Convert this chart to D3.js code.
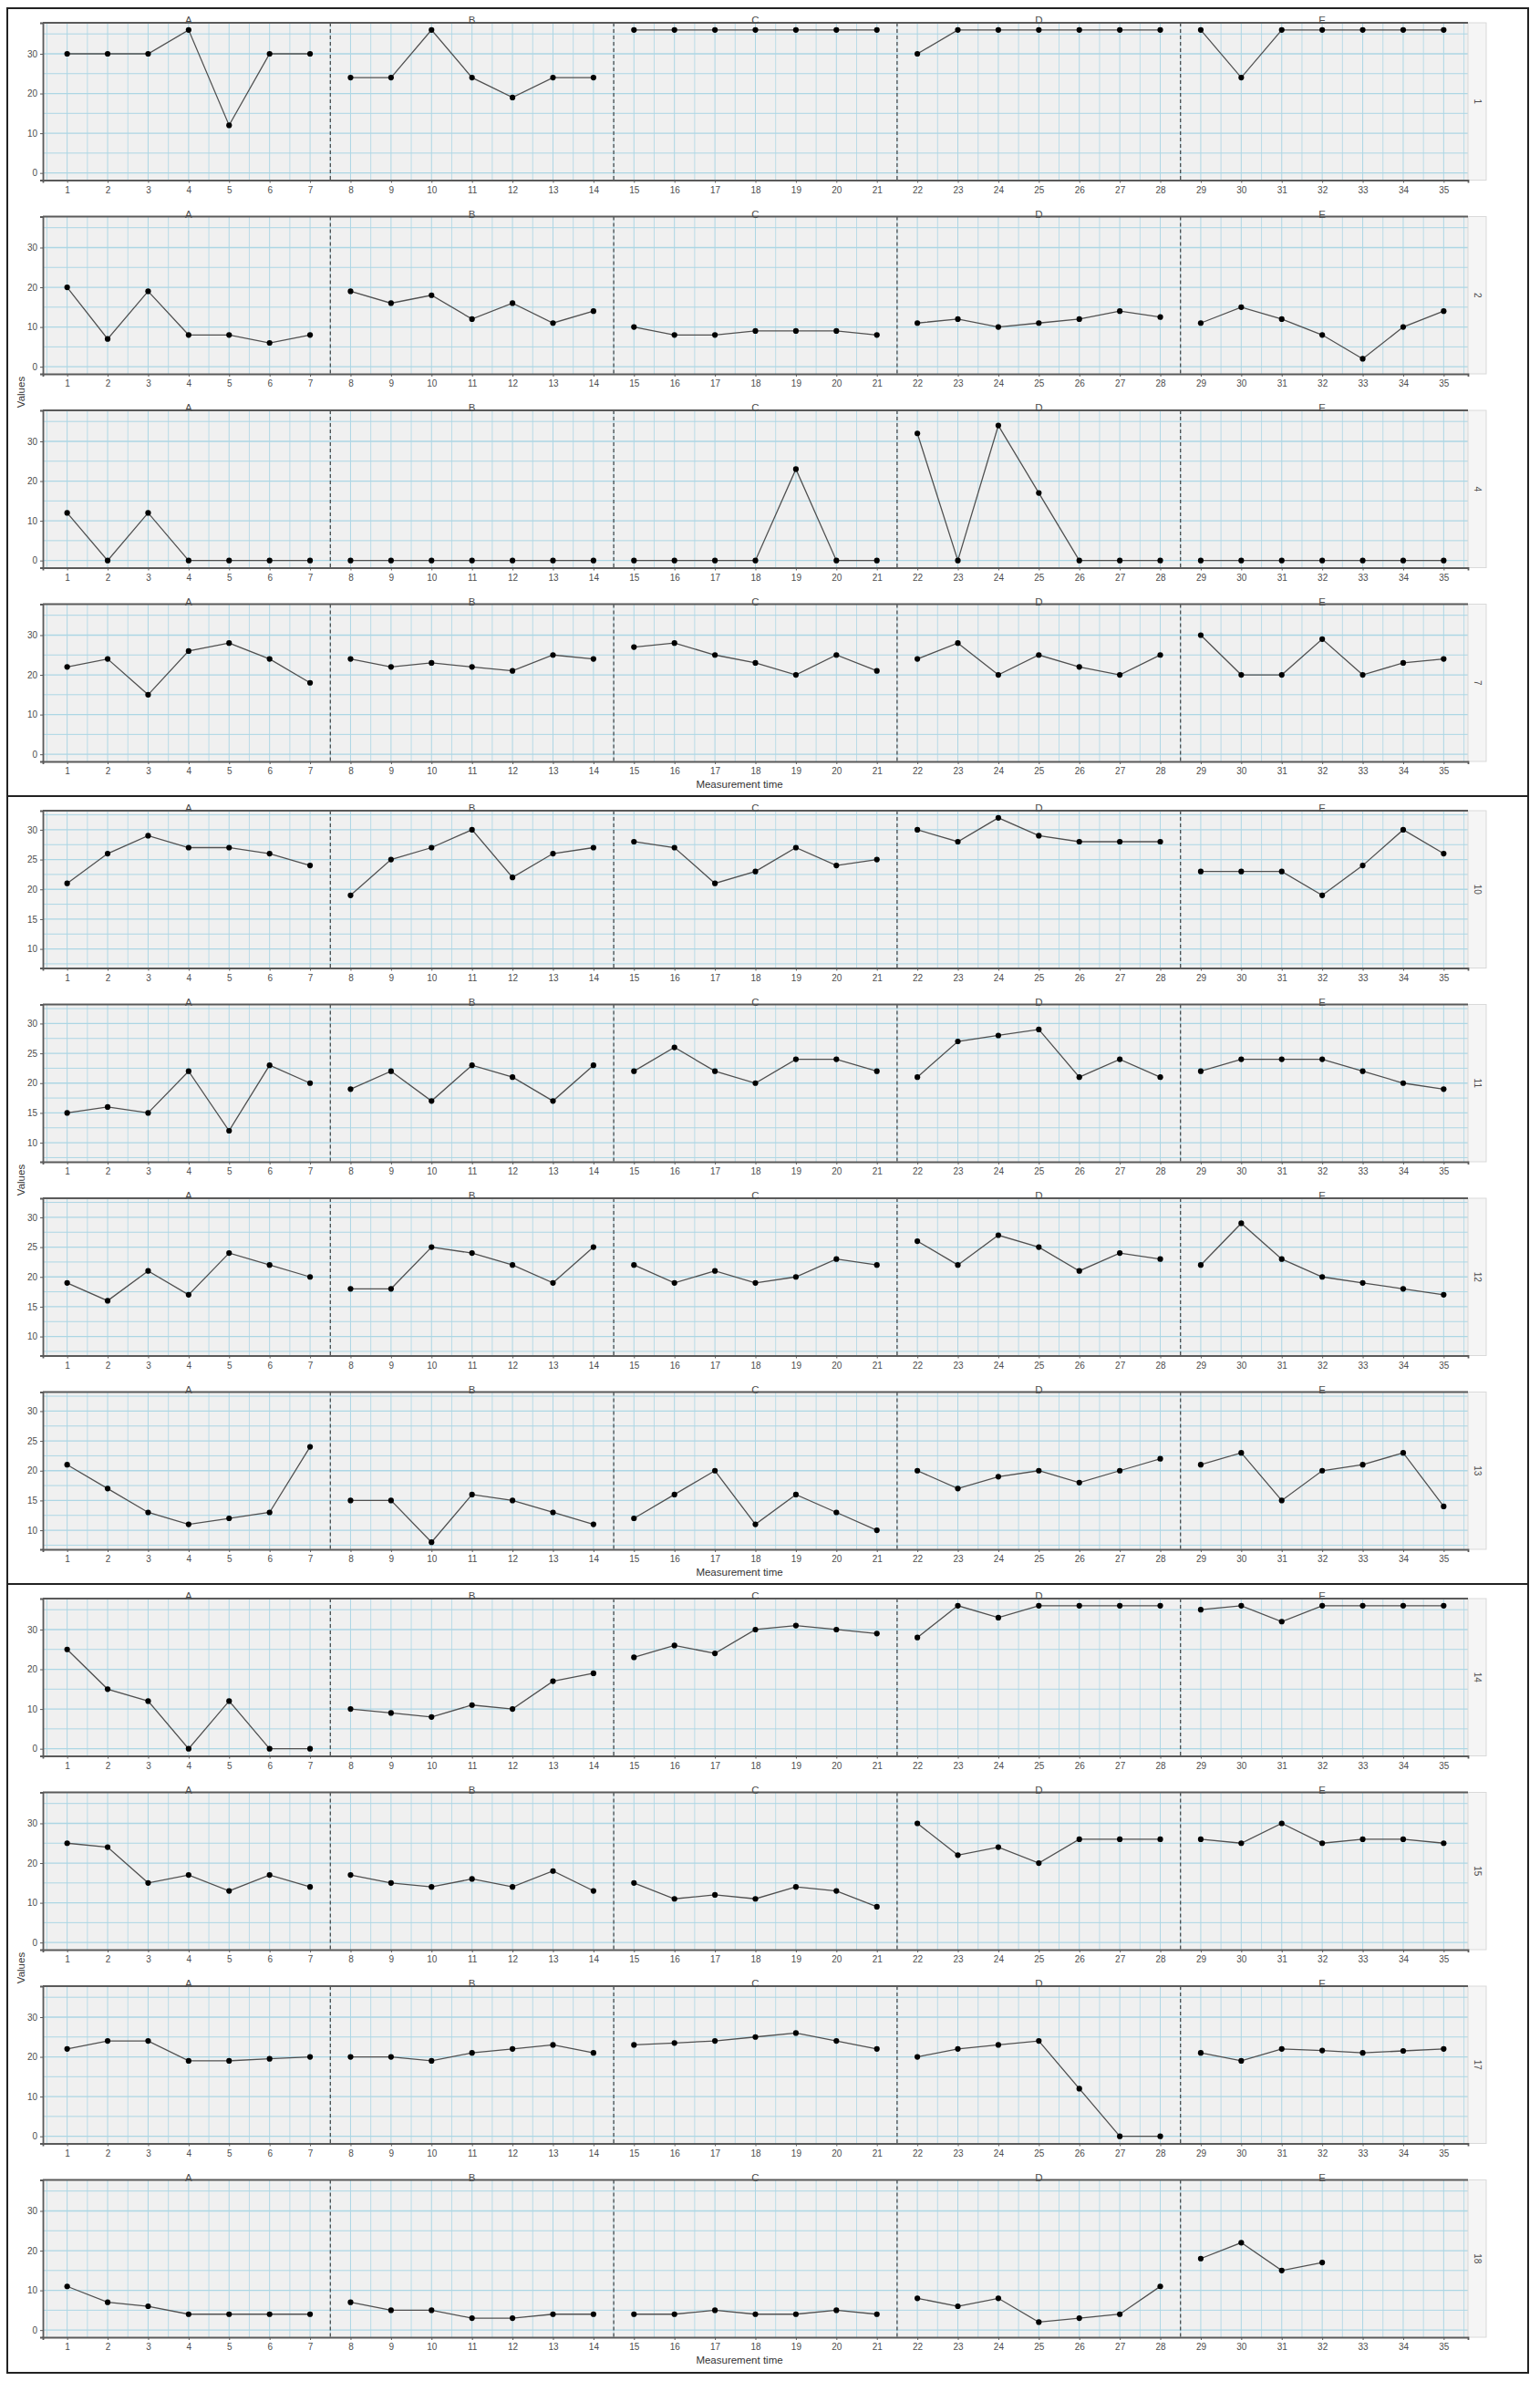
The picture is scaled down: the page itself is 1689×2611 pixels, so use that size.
<!DOCTYPE html>
<html><head><meta charset="utf-8">
<script src="https://cdn.jsdelivr.net/npm/d3@7"></script>
<style>
body{margin:0;background:#fff;}
text{font-family:"Liberation Sans",Arial,sans-serif;}
</style>
</head><body>
<svg id="chart" width="1689" height="2611"></svg>
<script>
// ---------- data ----------
const timeLabels = [1,2,3,4,5,6,7,8,9,10,11,12,13,14,15,16,17,18,19,20,21,22,23,24,25,26,27,28,29,30,31,32,33,34,35];
const phases = ["A","B","C","D","E"];
const phaseLength = 7;
const groupSubjects = [["1","2","4","7"],["10","11","12","13"],["14","15","17","18"]];
const groupYTicks = [[0,10,20,30],[10,15,20,25,30],[0,10,20,30]];
const xTitle = "Measurement time";
const yTitle = "Values";

const s1  = [30,30,30,36,12,30,30, 24,24,36,24,19,24,24, 36,36,36,36,36,36,36, 30,36,36,36,36,36,36, 36,24,36,36,36,36,36];
const s2  = [20,7,19,8,8,6,8, 19,16,18,12,16,11,14, 10,8,8,9,9,9,8, 11,12,10,11,12,14,12.5, 11,15,12,8,2,10,14];
const s4  = [12,0,12,0,0,0,0, 0,0,0,0,0,0,0, 0,0,0,0,23,0,0, 32,0,34,17,0,0,0, 0,0,0,0,0,0,0];
const s7  = [22,24,15,26,28,24,18, 24,22,23,22,21,25,24, 27,28,25,23,20,25,21, 24,28,20,25,22,20,25, 30,20,20,29,20,23,24];
const s10 = [21,26,29,27,27,26,24, 19,25,27,30,22,26,27, 28,27,21,23,27,24,25, 30,28,32,29,28,28,28, 23,23,23,19,24,30,26];
const s11 = [15,16,15,22,12,23,20, 19,22,17,23,21,17,23, 22,26,22,20,24,24,22, 21,27,28,29,21,24,21, 22,24,24,24,22,20,19];
const s12 = [19,16,21,17,24,22,20, 18,18,25,24,22,19,25, 22,19,21,19,20,23,22, 26,22,27,25,21,24,23, 22,29,23,20,19,18,17];
const s13 = [21,17,13,11,12,13,24, 15,15,8,16,15,13,11, 12,16,20,11,16,13,10, 20,17,19,20,18,20,22, 21,23,15,20,21,23,14];
const s14 = [25,15,12,0,12,0,0, 10,9,8,11,10,17,19, 23,26,24,30,31,30,29, 28,36,33,36,36,36,36, 35,36,32,36,36,36,36];
const s15 = [25,24,15,17,13,17,14, 17,15,14,16,14,18,13, 15,11,12,11,14,13,9, 30,22,24,20,26,26,26, 26,25,30,25,26,26,25];
const s17 = [22,24,24,19,19,19.5,20, 20,20,19,21,22,23,21, 23,23.5,24,25,26,24,22, 20,22,23,24,12,0,0, 21,19,22,21.6,21,21.5,22];
const s18 = [11,7,6,4,4,4,4, 7,5,5,3,3,4,4, 4,4,5,4,4,5,4, 8,6,8,2,3,4,11, 18,22,15,17,null,null,null];

const series = {"1":s1,"2":s2,"4":s4,"7":s7,"10":s10,"11":s11,"12":s12,"13":s13,"14":s14,"15":s15,"17":s17,"18":s18};

// ---------- layout ----------
const svg = d3.select("#chart");
const boxX0 = 8, boxX1 = 1676;
const groupTop = [9, 873, 1737];
const groupH = [864, 864, 865];
const px0 = 47, px1 = 1610, stripW = 20;
const panelOff = [16, 228.5, 441, 653.5];
const panelH = 172.5;

const gridCol = "#acd6e4";
const textCol = "#4d4d4d";
const axisCol = "#5a5a5a";

const x = d3.scaleLinear().domain([0.4, 35.6]).range([px0, px1]);
const xMinor = d3.range(0.5, 36, 1);
const phaseSeparators = phases.slice(1).map((p,i) => (i+1)*phaseLength + 0.5);
const phaseCenters = phases.map((p,i) => i*phaseLength + (phaseLength+1)/2);

groupSubjects.forEach((subs, gi) => {
  const T = groupTop[gi];
  const vals = subs.flatMap(s => series[s]).filter(v => v != null);
  const [mn, mx] = d3.extent(vals);
  const pad = (mx - mn) * 0.05;
  const ticks = groupYTicks[gi];
  const step = ticks[1] - ticks[0];
  const yMinor = d3.range(ticks[0] - step/2, ticks[ticks.length-1] + step, step)
      .filter(v => v > mn - pad && v < mx + pad);

  subs.forEach((s, pi) => {
    const top = T + panelOff[pi], bottom = top + panelH;
    const y = d3.scaleLinear().domain([mn - pad, mx + pad]).range([bottom, top]);
    const g = svg.append("g");

    // background
    g.append("rect").attr("x", px0).attr("y", top).attr("width", px1 - px0).attr("height", panelH)
      .attr("fill", "#f0f0f0");

    // grid
    g.selectAll(".vmin").data(xMinor).join("line")
      .attr("x1", d => x(d)).attr("x2", d => x(d)).attr("y1", top).attr("y2", bottom)
      .attr("stroke", gridCol).attr("stroke-width", 0.8);
    g.selectAll(".vmaj").data(timeLabels).join("line")
      .attr("x1", d => x(d)).attr("x2", d => x(d)).attr("y1", top).attr("y2", bottom)
      .attr("stroke", gridCol).attr("stroke-width", 1);
    g.selectAll(".hmin").data(yMinor).join("line")
      .attr("x1", px0).attr("x2", px1).attr("y1", d => y(d)).attr("y2", d => y(d))
      .attr("stroke", gridCol).attr("stroke-width", 1);
    g.selectAll(".hmaj").data(ticks).join("line")
      .attr("x1", px0).attr("x2", px1).attr("y1", d => y(d)).attr("y2", d => y(d))
      .attr("stroke", gridCol).attr("stroke-width", 1.3);

    // phase separators
    g.selectAll(".sep").data(phaseSeparators).join("line")
      .attr("x1", d => x(d)).attr("x2", d => x(d)).attr("y1", top).attr("y2", bottom)
      .attr("stroke", "#333").attr("stroke-width", 1.1).attr("stroke-dasharray", "4,3");

    // right strip
    g.append("rect").attr("x", px1).attr("y", top).attr("width", stripW).attr("height", panelH)
      .attr("fill", "#f5f5f5").attr("stroke", "#d9d9d9").attr("stroke-width", 1);
    g.append("text").attr("transform", `translate(${px1 + stripW/2},${top + panelH/2}) rotate(90)`)
      .attr("text-anchor", "middle").attr("dy", "0.35em").attr("font-size", 10)
      .attr("fill", textCol).text(s);

    // top border
    g.append("line").attr("x1", px0).attr("x2", px1).attr("y1", top).attr("y2", top)
      .attr("stroke", axisCol).attr("stroke-width", 1.8);

    // axes
    const ya = g.append("g").attr("transform", `translate(${px0},0)`)
      .call(d3.axisLeft(y).tickValues(ticks).tickSize(3).tickPadding(3).tickFormat(d3.format("d")));
    const xa = g.append("g").attr("transform", `translate(0,${bottom})`)
      .call(d3.axisBottom(x).tickValues(timeLabels).tickSize(3).tickPadding(4).tickFormat(d3.format("d")));
    [ya, xa].forEach(a => {
      a.select(".domain").attr("stroke", axisCol).attr("stroke-width", 1.8);
      a.selectAll(".tick line").attr("stroke", axisCol).attr("stroke-width", 1);
      a.selectAll(".tick text").attr("fill", textCol).attr("font-size", 10)
        .attr("font-family", "'Liberation Sans',Arial,sans-serif");
    });

    // phase labels
    g.selectAll(".plab").data(phases).join("text")
      .attr("x", (d,i) => x(phaseCenters[i])).attr("y", top + 1)
      .attr("text-anchor", "middle").attr("font-size", 11.5).attr("fill", textCol).text(d => d);

    // data
    const pts = series[s].map((v,i) => ({t: timeLabels[i], v: v, ph: Math.floor(i / phaseLength)}));
    const line = d3.line().defined(d => d.v != null).x(d => x(d.t)).y(d => y(d.v));
    phases.forEach((p, k) => {
      g.append("path").datum(pts.filter(d => d.ph === k))
        .attr("d", line).attr("fill", "none").attr("stroke", "#505050").attr("stroke-width", 1.3);
    });
    g.selectAll(".pt").data(pts.filter(d => d.v != null)).join("circle")
      .attr("cx", d => x(d.t)).attr("cy", d => y(d.v)).attr("r", 3.1).attr("fill", "#000");
  });

  // axis titles
  svg.append("text").attr("x", 811).attr("y", T + 864 - 9)
    .attr("text-anchor", "middle").attr("font-size", 11.5).attr("fill", "#333").text(xTitle);
  const midY = T + (panelOff[1] + panelH + panelOff[2]) / 2;
  svg.append("text").attr("transform", `translate(27,${midY}) rotate(-90)`)
    .attr("text-anchor", "middle").attr("font-size", 11.5).attr("fill", "#333").text(yTitle);

  // outer box
  svg.append("rect").attr("x", boxX0).attr("y", T).attr("width", boxX1 - boxX0).attr("height", groupH[gi])
    .attr("fill", "none").attr("stroke", "#222").attr("stroke-width", 2);
});
</script>
</body></html>
